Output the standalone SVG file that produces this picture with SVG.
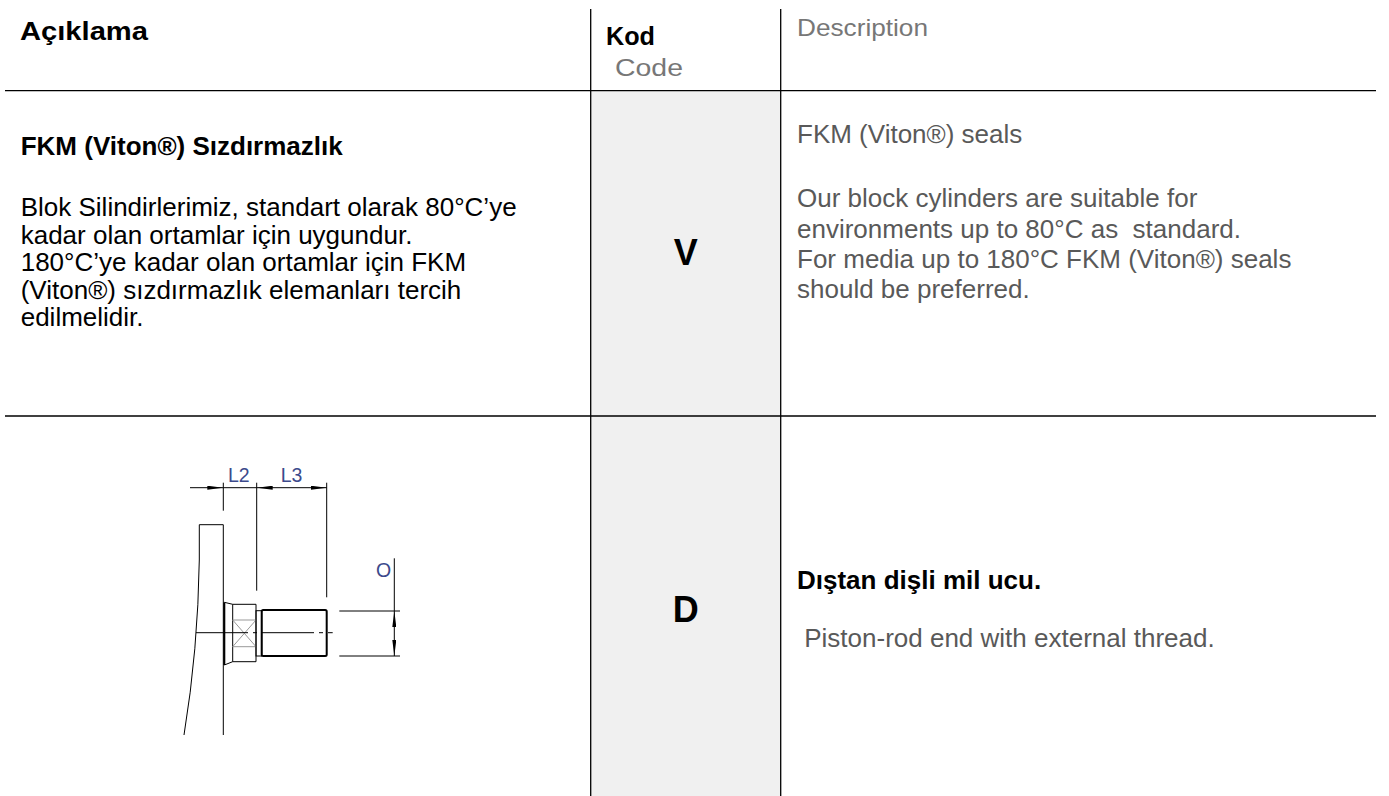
<svg xmlns="http://www.w3.org/2000/svg" width="1389" height="796" viewBox="0 0 1389 796">
<style>
.hd{font-family:"Liberation Sans",Arial,sans-serif;font-weight:bold;fill:#000}
.hg{font-family:"Liberation Sans",Arial,sans-serif;fill:#777}
.tb{font-family:"Liberation Sans",Arial,sans-serif;font-weight:bold;font-size:26px;fill:#000}
.tx{font-family:"Liberation Sans",Arial,sans-serif;font-size:26px;fill:#000}
.tr{font-family:"Liberation Sans",Arial,sans-serif;font-size:26px;fill:#595959}
.code{font-family:"Liberation Sans",Arial,sans-serif;font-weight:bold;font-size:36px;fill:#000}
.grid{stroke:#000;stroke-width:1.3;fill:none}
.dl{stroke:#000;stroke-width:1;fill:none}
.gl{stroke:#999;stroke-width:1;fill:none}
.dimt{font-family:"Liberation Sans",Arial,sans-serif;font-size:19.5px;fill:#3c4a8c}
</style>
<defs>
<marker id="ah" viewBox="0 0 16 4" refX="16" refY="2" markerWidth="16" markerHeight="4" markerUnits="userSpaceOnUse" orient="auto-start-reverse">
<path d="M0,0 L16,2 L0,4 Z" fill="#000"/>
</marker>
</defs>
<rect x="590.7" y="90.7" width="190" height="705.3" fill="#F0F0F0"/>
<g id="grid">
<line class="grid" x1="5" y1="90.7" x2="1376" y2="90.7"/>
<line class="grid" x1="5" y1="416" x2="1376" y2="416"/>
<line class="grid" x1="590.7" y1="9" x2="590.7" y2="796"/>
<line class="grid" x1="780.7" y1="9" x2="780.7" y2="796"/>
</g>
<g id="header">
<text class="hd" x="20" y="40" font-size="25" textLength="128" lengthAdjust="spacingAndGlyphs">Açıklama</text>
<text class="hd" x="606" y="45" font-size="25" textLength="49" lengthAdjust="spacingAndGlyphs">Kod</text>
<text class="hg" x="615" y="76" font-size="23" textLength="68" lengthAdjust="spacingAndGlyphs">Code</text>
<text class="hg" x="797" y="36" font-size="24" textLength="131" lengthAdjust="spacingAndGlyphs">Description</text>
</g>
<g id="row-v">
<text class="tb" x="20.7" y="155">FKM (Viton®) Sızdırmazlık</text>
<text class="tx" x="20.7" y="216">Blok Silindirlerimiz, standart olarak 80°C’ye</text>
<text class="tx" x="20.7" y="243.5">kadar olan ortamlar için uygundur.</text>
<text class="tx" x="20.7" y="271">180°C’ye kadar olan ortamlar için FKM</text>
<text class="tx" x="20.7" y="298.5">(Viton®) sızdırmazlık elemanları tercih</text>
<text class="tx" x="20.7" y="326">edilmelidir.</text>
<text class="code" x="685.7" y="265" text-anchor="middle">V</text>
<text class="tr" x="797" y="143">FKM (Viton®) seals</text>
<text class="tr" x="797" y="207">Our block cylinders are suitable for</text>
<text class="tr" x="797" y="238">environments up to 80°C as&#160; standard.</text>
<text class="tr" x="797" y="268">For media up to 180°C FKM (Viton®) seals</text>
<text class="tr" x="797" y="298">should be preferred.</text>
</g>
<g id="row-d">
<g id="drawing">
<path class="dl" d="M199.3,524.7 H223.3 V735 M199.3,524.7 V560 Q198,650 184,735"/>
<line class="dl" x1="223.3" y1="482.7" x2="223.3" y2="510.7"/>
<line class="dl" x1="256.7" y1="482.7" x2="256.7" y2="590.7"/>
<line class="dl" x1="326.7" y1="482.7" x2="326.7" y2="597.3"/>
<line class="dl" x1="190" y1="487.7" x2="223.3" y2="487.7" marker-end="url(#ah)"/>
<line class="dl" x1="256.7" y1="487.7" x2="326.7" y2="487.7" marker-start="url(#ah)" marker-end="url(#ah)"/>
<line class="dl" x1="223.3" y1="487.7" x2="256.7" y2="487.7"/>
<text class="dimt" x="228" y="482">L2</text>
<text class="dimt" x="280.7" y="482">L3</text>
<line x1="224.3" y1="602.3" x2="224.3" y2="665" stroke="#000" stroke-width="2"/>
<path class="dl" d="M224.3,602.3 L232.7,604.3 H256 V661.7 H232.7 L224.3,665 M232.7,604.3 V661.7"/>
<path class="gl" d="M232.7,620 H256 M232.7,646.7 H256 M232.7,620 L256,646.7 M256,620 L232.7,646.7"/>
<rect class="dl" x="256" y="610.7" width="5.7" height="45.3"/>
<rect x="261.7" y="610" width="65" height="46" rx="1.5" fill="none" stroke="#000" stroke-width="2"/>
<line class="dl" x1="196" y1="632.7" x2="332.7" y2="632.7" stroke-dasharray="52 5 4 5"/>
<line class="dl" x1="339.3" y1="611" x2="400" y2="611"/>
<line class="dl" x1="339.3" y1="656" x2="400" y2="656"/>
<line class="dl" x1="394.3" y1="558.3" x2="394.3" y2="611"/>
<line class="dl" x1="394.3" y1="633" x2="394.3" y2="611" marker-end="url(#ah)"/>
<line class="dl" x1="394.3" y1="633" x2="394.3" y2="656" marker-end="url(#ah)"/>
<text class="dimt" x="376" y="576.7" font-size="17">O</text>
</g>
<text class="code" x="685.7" y="621.5" text-anchor="middle">D</text>
<text class="tb" x="797" y="589">Dıştan dişli mil ucu.</text>
<text class="tr" x="797" y="647">&#160;Piston-rod end with external thread.</text>
</g>
</svg>
